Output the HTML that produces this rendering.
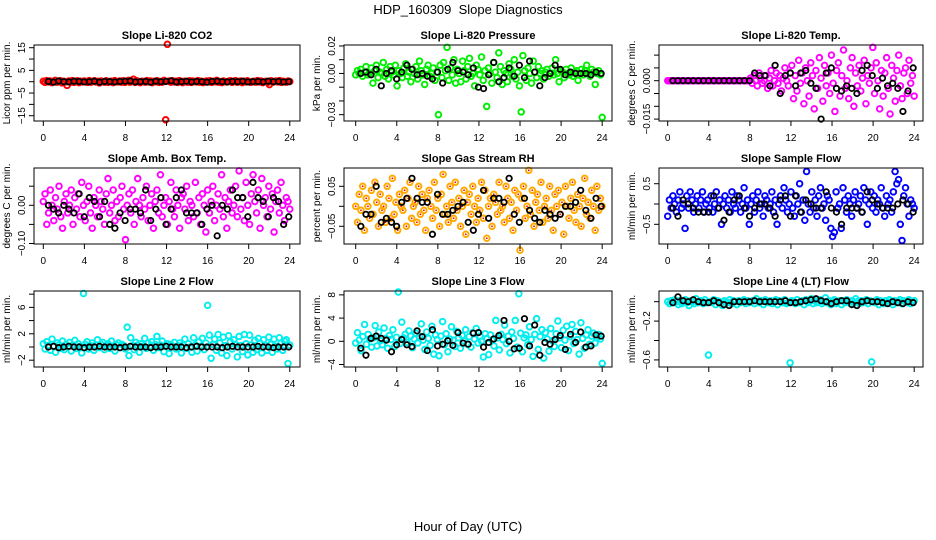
<!DOCTYPE html>
<html><head><meta charset="utf-8"><style>
html,body{margin:0;padding:0;background:#fff;}
svg{display:block;font-family:"Liberation Sans",Arial,sans-serif;}
</style></head><body>
<svg id="chart" width="936" height="540" viewBox="0 0 936 540">
<rect width="936" height="540" fill="#fff"/>
<text x="468" y="14" text-anchor="middle" font-size="13" xml:space="preserve">HDP_160309  Slope Diagnostics</text>
<text x="468" y="531" text-anchor="middle" font-size="13">Hour of Day (UTC)</text>
</svg>
<script>
// ---- data (values in panel units x scale) ----
const xTicks = [0,4,8,12,16,20,24];
const p1Color = [0.2,-0.3,0.5,-0.1,0.3,-0.4,0.1,0.6,-0.2,0.0,0.4,-0.5,0.2,-0.1,-1.6,0.3,-0.2,0.5,-0.3,0.1,0.4,-0.4,0.2,-0.1,0.3,0.0,-0.3,0.5,-0.2,0.1,0.4,-0.1,0.2,-0.5,0.3,0.0,-0.2,0.4,-0.3,0.1,0.2,-0.4,0.5,0.0,-0.1,0.3,-0.2,0.4,-0.3,0.1,0.6,-0.2,0.2,1.1,-0.3,0.4,0.0,-0.4,0.2,0.1,-0.2,0.5,-0.1,0.3,-0.4,0.2,0.0,0.4,-0.3,0.1,-0.2,0.6,-16.8,16.5,0.3,-0.2,0.4,-0.1,0.2,-0.3,0.5,0.0,-0.4,0.2,0.1,-0.2,0.4,-0.3,0.3,0.0,-0.1,0.5,-0.2,0.2,-0.4,0.1,0.3,-0.1,0.4,-0.3,0.2,0.0,0.6,-0.2,0.1,-0.4,0.3,0.0,-0.1,0.2,0.4,-0.3,0.1,0.5,-0.2,0.0,0.3,-0.4,0.2,-0.1,0.4,0.0,-0.3,0.1,0.2,-0.2,0.5,-0.1,0.3,-0.4,0.0,0.2,-0.3,-1.3,0.4,-0.2,0.1,0.3,-0.1,0.5,-0.3,0.2,0.0,-0.2,0.3,0.1];
const p1Black = [0.1,-0.2,0.3,0.0,-0.1,0.2,0.1,-0.1,0.0,0.2,-0.2,0.1,0.0,-0.1,0.1,0.2,0.3,-0.1,0.0,0.1,-0.2,0.2,0.0,0.1,0.4,-0.1,0.0,0.2,-0.1,0.1,0.0,-0.2,0.1,0.2,0.0,-0.1,0.1,0.0,0.2,-0.1,0.0,0.1,-0.1,0.2,0.0,0.1,-0.1,0.0];
const p2Color = [-1,2,0,3,-2,1,5,-1,0,4,-7,2,6,-3,1,0,8,-2,3,-4,5,1,-1,6,-9,2,0,-3,4,7,-2,1,-6,3,0,5,-4,9,2,-1,-8,3,6,-2,0,4,-5,1,-30,6,-3,8,2,19,-5,4,-1,10,-7,3,0,-6,9,2,-4,5,11,-2,0,-9,6,3,-1,12,-5,2,-24,4,0,-7,8,1,-3,15,5,-8,2,0,-6,7,3,-2,10,-4,1,-9,-28,13,2,-5,4,0,-7,9,1,-3,5,0,2,-4,1,3,-2,0,4,-1,10,0,-6,2,1,-3,3,0,-1,4,-2,1,2,-5,0,3,-1,2,6,0,-2,3,1,-8,0,2,-1,-32];
const p2Black = [0,1,-1,3,-9,0,2,-4,1,6,3,-1,0,-2,-4,1,-7,3,8,2,1,-1,4,-10,-11,-1,8,-6,-3,4,-2,6,-3,9,1,-9,-3,0,6,3,-1,1,0,0,0,-1,1,0];
const p3Color = [0,0,0,0,0,0,0,0,0,0,0,0,0,0,0,0,0,0,0,0,0,0,0,0,0,0,0,0,0,0,0,0,0,0,0,0,0,0,0,0,0,0,0,0,0,0,0,0,1,-1,2,0,-2,3,1,-1,0,2,-3,1,4,-2,0,3,-1,2,-4,1,5,0,-2,3,6,-7,2,-4,8,-1,3,-9,5,0,-6,7,2,-11,4,-3,9,1,-8,6,-2,3,-5,10,-1,-12,4,7,-6,2,12,-3,0,-7,5,9,-10,3,-2,6,-4,1,8,-9,2,-1,5,13,-5,7,0,-11,4,-6,3,9,-3,-13,6,1,-8,4,10,-2,-7,3,5,-5,8,-1,2,-6];
const p3Black = [0,0,0,0,0,0,0,0,0,0,0,0,0,0,0,0,3,2,2,-2,6,-5,2,3,-2,3,4,-1,-3,-15,3,5,-3,-4,-2,-3,-5,4,6,2,-3,1,-2,-1,-3,-12,-4,5];
const p4Color = [1,3,-5,-2,4,0,-4,2,-1,5,-3,-6,1,3,-2,0,4,-5,2,-1,3,-3,6,0,-4,1,5,-2,-6,2,0,-3,4,1,-1,-5,3,7,-2,0,4,-4,1,-3,2,5,-1,-9,0,3,-2,4,-5,1,7,0,-3,2,-1,5,-4,0,3,-6,1,4,-2,8,-3,0,2,-5,1,6,-1,-3,4,0,-6,2,3,-1,5,-4,1,0,-3,6,-2,2,-5,3,0,-7,4,-2,1,5,-4,0,3,-1,8,-3,2,-6,1,4,-2,0,5,-3,9,-1,2,-4,6,0,-5,3,8,1,-2,4,-6,7,0,2,-3,5,-1,3,-7,1,4,-2,6,0,-4,2,1,-1];
const p4Black = [0,-1,-2,0,-1,-2,3,-3,2,1,-3,1,-5,-6,-2,-4,-1,-1,-2,4,-4,-1,2,-5,-1,2,4,-2,-2,-2,-5,-1,0,-8,0,-1,4,2,2,-3,6,2,1,-3,2,1,-5,-3];
const p5Color = [0,-4,3,-1,5,-6,2,0,-3,4,-2,6,1,-5,3,-1,0,-4,5,2,-3,7,-2,1,-6,3,0,-1,4,-5,2,6,-3,0,1,-4,5,-2,3,-1,-6,2,4,0,-3,6,-1,2,-5,3,8,-2,0,-4,5,1,-3,6,-1,2,-5,0,4,-7,1,3,-2,5,0,-4,2,-1,6,-3,4,-8,0,2,-5,3,1,-2,6,-1,0,-4,5,2,-3,1,-6,4,-1,3,-11,2,5,-3,0,9,-2,4,-5,1,3,-1,6,-4,0,2,-3,5,-1,-6,3,0,4,-2,1,-7,5,0,-3,2,6,-1,-4,3,0,-5,2,7,-2,1,-3,4,0,-6,5,-1,2,0];
const p5Black = [-5,-2,-2,5,-4,-3,-4,-5,1,2,7,2,1,1,-7,3,-2,-2,-1,0,1,-4,-6,-2,4,-3,2,2,1,7,-2,-4,2,-1,-3,-4,-1,-2,-3,-2,0,0,1,4,-1,-3,2,0];
const p6Color = [-3,1,-1,2,0,-2,1,3,-1,0,-6,2,-1,3,1,-2,0,2,-1,1,3,-2,0,1,-1,2,-2,0,3,-1,1,-5,0,2,-1,1,-2,3,0,-1,2,1,-2,0,4,-1,1,-5,0,2,-2,1,3,-1,0,-3,2,1,-1,0,3,-2,1,-5,0,2,-1,4,1,-2,0,3,-1,-3,2,0,5,-2,1,-4,8,0,-2,3,-1,1,-3,2,4,-1,0,-4,2,1,-6,-8,-7,3,-1,0,-6,4,1,-2,2,0,-3,1,3,-1,0,2,-2,4,1,-5,0,3,-1,2,-2,1,0,4,-1,-3,2,0,1,-2,3,8,5,6,-5,-9,2,4,0,-3,1,0,-1];
const p6Black = [-1,-3,1,0,-1,-2,-2,-2,2,-1,-4,-2,1,2,-1,-3,-1,0,0,-1,-3,1,2,-3,2,-2,1,0,-1,-1,3,-1,-2,-5,-1,-1,-1,-2,3,1,0,-1,-1,-1,0,1,0,-2];
const p7Color = [0.5,-0.3,0.8,0.2,-0.5,1.2,0.1,-0.8,0.6,0.3,-0.2,0.9,-0.4,0.4,0.0,0.7,-0.6,0.3,1.0,-0.2,0.5,0.1,-0.9,8.1,0.4,0.8,-0.3,0.2,0.6,-0.5,0.3,1.1,-0.1,0.4,0.7,-0.4,0.2,0.5,-0.2,0.9,0.1,-0.6,0.3,0.6,-0.1,0.4,0.2,-0.3,3.0,-1.3,1.4,0.2,-0.4,0.7,0.3,-0.8,0.5,0.1,1.3,-0.2,0.6,0.0,0.8,-0.5,0.4,1.6,-0.1,0.3,0.9,-0.7,0.2,0.5,-1.0,0.4,0.1,0.7,-0.3,0.2,0.6,-0.9,0.3,1.2,-0.2,0.5,0.0,-0.8,1.4,0.3,-0.6,0.8,0.1,1.3,-0.4,0.6,6.3,1.8,-1.7,0.4,1.2,-0.5,1.9,0.6,-0.9,1.5,0.2,-1.3,1.7,0.8,-0.3,1.1,0.4,-1.5,1.6,0.2,-0.7,1.9,0.5,-1.2,1.8,0.3,-0.8,1.0,-0.4,1.3,0.6,-0.9,1.1,0.2,-0.5,1.5,0.4,-0.8,1.2,0.1,-0.3,1.4,0.6,-0.5,0.9,1.1,-2.5,0.3];
const p7Black = [0,0.1,-0.1,0,0.1,0,0,-0.1,0,0,0.1,0,0,0,-0.1,0,0.1,0,0,0,-0.1,0,0,0.1,0,0,0,-0.1,0,0.1,0,0,0,0,-0.1,0,0.1,0,0,0,0,0.1,0,0,-0.1,0,0,0];
const p8Color = [-0.3,1.5,0.2,-1.6,0.8,2.9,-0.5,1.2,0.4,-1.0,0.6,2.7,-0.8,1.6,0.1,-0.6,2.3,0.5,-1.2,1.0,0.3,2.0,-0.9,0.7,8.5,-0.4,3.3,0.6,1.2,-0.2,1.8,0.9,-1.1,0.4,1.4,-0.3,0.8,3.0,0.2,-1.4,1.6,0.5,-0.7,2.6,-2.2,1.1,0.3,-2.5,0.9,3.4,-0.6,1.3,-1.8,0.4,2.5,0.2,-0.9,1.7,0.6,-1.2,1.0,0.1,2.0,-0.5,0.8,-1.0,1.5,0.4,2.2,-0.3,0.9,0.0,-2.7,1.3,0.5,-2.3,1.1,0.2,-0.8,3.6,0.6,-1.5,1.2,0.3,2.8,-0.4,0.9,-2.0,1.6,0.5,3.6,-1.0,8.2,1.4,-1.8,0.6,1.1,-0.6,2.5,0.3,-2.6,1.2,3.9,-1.4,0.8,2.0,-2.9,1.5,0.4,-1.7,2.2,0.1,-0.9,1.3,3.5,0.6,-1.1,1.9,0.2,2.6,-1.6,0.8,2.9,-0.4,1.7,0.3,-2.2,3.2,0.5,-1.2,1.1,2.0,-0.5,0.9,1.4,-0.3,0.6,1.2,0.4,-3.8];
const p8Black = [-1.2,-2.4,0.5,0.9,0.5,0.2,-1.8,-0.6,0.3,-0.6,-0.9,1.8,0.8,-1.6,2.0,-0.8,-0.5,0.1,-0.7,1.5,-0.3,-0.5,1.4,1.5,-1.0,-0.2,0.4,1.0,3.6,0.0,-1.3,-1.2,3.9,-0.8,2.8,-2.4,-0.2,-0.5,0.3,1.0,-1.4,1.2,-0.2,1.6,-1.0,-0.8,1.1,0.9];
const p9Color = [0,-2,1,-1,2,0,-3,1,-2,0,2,-1,-4,1,0,-2,3,-1,0,1,-2,2,-1,-55,0,-1,2,-3,1,0,-2,-4,1,0,-1,2,-2,1,0,-3,1,-1,0,2,-2,1,-1,0,1,-2,3,0,-1,1,-3,2,0,-1,1,-2,0,2,-3,1,0,-1,2,-2,-1,-63,1,0,-2,2,-1,0,1,-3,2,-1,0,3,-2,1,-1,0,2,-2,0,4,-1,1,-3,0,2,-2,0,1,-3,1,-1,2,0,-2,1,-1,3,0,-2,1,-1,0,2,-2,1,-62,0,-1,2,-3,1,0,-2,1,-1,2,0,-3,1,-1,0,2,-2,1,0,-1,2,-2,0,1];
const p9Black = [-1,5,1,0,2,0,-1,-1,1,-1,-3,-4,0,0,0,0,1,0,0,0,0,0,1,-1,-1,0,1,2,3,1,0,-2,0,1,1,-3,-4,0,1,0,0,-1,-2,0,-1,-2,0,-1];
const p1YTicks=[-15,-10,-5,0,5,10,15], p1YLabels=["15","5","−5","−15"];
const p2YTicks=[-0.03,-0.02,-0.01,0,0.01,0.02], p2YLabels=["0.02","0.00","−0.03"];
const p3YTicks=[-0.015,-0.01,-0.005,0,0.005,0.01], p3YLabels=["0.000","−0.015"];
const p4YTicks=[-0.1,-0.05,0,0.05], p4YLabels=["0.00","−0.10"];
const p5YTicks=[-0.05,0,0.05], p5YLabels=["0.05","−0.05"];
const p6YTicks=[-0.5,0,0.5], p6YLabels=["0.5","−0.5"];
const p7YTicks=[-2,0,2,4,6,8], p7YLabels=["6","2","−2"];
const p8YTicks=[-4,0,4,8], p8YLabels=["8","4","0","−4"];
const p9YTicks=[-0.6,-0.4,-0.2,0], p9YLabels=["−0.2","−0.6"];

const NS="http://www.w3.org/2000/svg";
const svg=document.getElementById('chart');
function mk(tag,attrs,parent){const e=document.createElementNS(NS,tag);for(const k in attrs)e.setAttribute(k,attrs[k]);(parent||svg).appendChild(e);return e;}
const cols=[{l:34,r:300,x0:43.3},{l:344,r:612,x0:355.7},{l:659,r:923,x0:667.7}];
const rows=[{t:45,b:121},{t:168,b:244},{t:291,b:367}];
const pxPerHour=10.27;
const panels=[
 {title:"Slope Li-820 CO2",ylab:"Licor ppm per min.",c:0,r:0,top:16.19,bot:-17.33,scale:1,color:p1Color,black:p1Black,stroke:"#ff0000",ticks:p1YTicks,labels:p1YLabels},
 {title:"Slope Li-820 Pressure",ylab:"kPa per min.",c:1,r:0,top:0.0207,bot:-0.0346,scale:0.001,color:p2Color,black:p2Black,stroke:"#00ee00",ticks:p2YTicks,labels:p2YLabels},
 {title:"Slope Li-820 Temp.",ylab:"degrees C per min.",c:2,r:0,top:0.01395,bot:-0.01574,scale:0.001,color:p3Color,black:p3Black,stroke:"#ff00ff",ticks:p3YTicks,labels:p3YLabels},
 {title:"Slope Amb. Box Temp.",ylab:"degrees C per min.",c:0,r:1,top:0.0976,bot:-0.1013,scale:0.01,color:p4Color,black:p4Black,stroke:"#ff00ff",ticks:p4YTicks,labels:p4YLabels},
 {title:"Slope Gas Stream RH",ylab:"percent per min.",c:1,r:1,top:0.0958,bot:-0.0943,scale:0.01,color:p5Color,black:p5Black,stroke:"#ffaa00",ticks:p5YTicks,labels:p5YLabels},
 {title:"Slope Sample Flow",ylab:"ml/min per min.",c:2,r:1,top:0.887,bot:-0.985,scale:0.1,color:p6Color,black:p6Black,stroke:"#0000ff",ticks:p6YTicks,labels:p6YLabels},
 {title:"Slope Line 2 Flow",ylab:"ml/min per min.",c:0,r:2,top:8.48,bot:-3.03,scale:1,color:p7Color,black:p7Black,stroke:"#00eeee",ticks:p7YTicks,labels:p7YLabels},
 {title:"Slope Line 3 Flow",ylab:"ml/min per min.",c:1,r:2,top:8.67,bot:-4.43,scale:1,color:p8Color,black:p8Black,stroke:"#00eeee",ticks:p8YTicks,labels:p8YLabels},
 {title:"Slope Line 4 (LT) Flow",ylab:"ml/min per min.",c:2,r:2,top:0.110,bot:-0.673,scale:0.01,color:p9Color,black:p9Black,stroke:"#00eeee",ticks:p9YTicks,labels:p9YLabels}
];
panels.forEach((p,pi)=>{
 const C=cols[p.c],R=rows[p.r];
 const g=mk('g',{});
 
 
 const xs=h=>C.x0+h*pxPerHour;
 const ys=v=>R.t+(p.top-v)/(p.top-p.bot)*(R.b-R.t);
 const t=mk('text',{x:(C.l+C.r)/2,y:R.t-6,'text-anchor':'middle','font-size':'11','font-weight':'bold'},g);
 t.textContent=p.title;
 
 
 const yl=mk('text',{x:0,y:0,'text-anchor':'middle','font-size':'10',transform:`translate(${C.l-24},${(R.t+R.b)/2}) rotate(-90)`},g);
 yl.textContent=p.ylab;
 
 
 const nC=p.color.length;
 p.color.forEach((v,i)=>{
  const h=i*24/(nC-1);
  const c=mk('circle',{cx:xs(h),cy:ys(v*p.scale),r:2.8,fill:'none',stroke:p.stroke,'stroke-width':1.9},g);
  
  
  if(pi===4){const d=mk('circle',{cx:xs(h),cy:ys(v*p.scale),r:0.9,fill:'#ff0000'},g);
   
   }
 });
 const nB=p.black.length;
 p.black.forEach((v,i)=>{
  const h=0.5+i*23.4/(nB-1);
  const c=mk('circle',{cx:xs(h),cy:ys(v*p.scale),r:2.7,fill:'none',stroke:'#000','stroke-width':1.8},g);
  
  
 });
 const bx=mk('rect',{x:C.l,y:R.t,width:C.r-C.l,height:R.b-R.t,fill:'none',stroke:'#000','stroke-width':1},g);
 
 
 xTicks.forEach(h=>{
  mk('line',{x1:xs(h),x2:xs(h),y1:R.b,y2:R.b+5,stroke:'#000'},g);
  const tx=mk('text',{x:xs(h),y:R.b+20,'text-anchor':'middle','font-size':'10'},g);
  tx.textContent=h;
  
  
 });
 p.ticks.forEach(v=>{
  mk('line',{x1:C.l-5,x2:C.l,y1:ys(v),y2:ys(v),stroke:'#000'},g);
 });
 p.labels.forEach(s=>{
  const v=parseFloat(s.replace('−','-'));
  const ty=mk('text',{x:0,y:0,'text-anchor':'middle','font-size':'10',transform:`translate(${C.l-9},${ys(v)}) rotate(-90)`},g);
  ty.textContent=s;
  
  
 });
});
</script>
</body></html>
